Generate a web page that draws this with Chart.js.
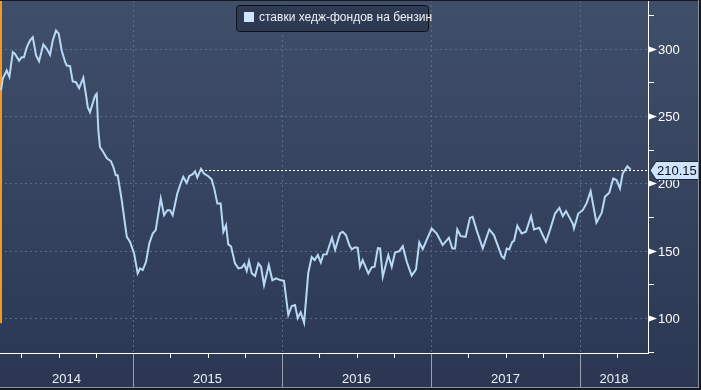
<!DOCTYPE html>
<html><head><meta charset="utf-8">
<script src="https://cdn.jsdelivr.net/npm/chart.js@4/dist/chart.umd.min.js"></script>
<style>
html,body{margin:0;padding:0;background:#2c3a55;overflow:hidden}
#wrap{position:relative;width:701px;height:390px}
canvas{display:block}
</style></head>
<body><div id="wrap"><canvas id="c" width="701" height="390"></canvas></div>
<script>
// ---- data (decimal years, weekly readings) ----
const dates = [
2014.114,2014.125,2014.152,2014.170,2014.193,2014.208,2014.235,2014.253,2014.268,2014.287,
2014.309,2014.327,2014.349,2014.369,2014.398,2014.421,2014.443,2014.461,2014.483,2014.501,
2014.521,2014.544,2014.555,2014.577,2014.595,2014.617,2014.638,2014.666,2014.685,2014.696,
2014.711,2014.745,2014.756,2014.767,2014.778,2014.800,2014.823,2014.852,2014.868,2014.884,
2014.897,2014.924,2014.958,2014.980,2015.007,2015.031,2015.047,2015.065,2015.087,2015.109,
2015.132,2015.152,2015.186,2015.208,2015.230,2015.248,2015.266,2015.297,2015.320,2015.337,
2015.360,2015.378,2015.401,2015.416,2015.431,2015.456,2015.476,2015.505,2015.528,2015.545,
2015.566,2015.588,2015.606,2015.624,2015.639,2015.658,2015.684,2015.707,2015.729,2015.747,
2015.763,2015.778,2015.797,2015.819,2015.841,2015.859,2015.879,2015.911,2015.935,2015.960,
2015.987,2016.013,2016.042,2016.065,2016.087,2016.105,2016.125,2016.148,2016.176,2016.199,
2016.219,2016.240,2016.260,2016.277,2016.299,2016.335,2016.356,2016.389,2016.407,2016.429,
2016.452,2016.468,2016.490,2016.508,2016.523,2016.541,2016.579,2016.602,2016.621,2016.643,
2016.658,2016.676,2016.713,2016.736,2016.758,2016.787,2016.810,2016.837,2016.870,2016.899,
2016.921,2016.944,2017.004,2017.038,2017.078,2017.120,2017.143,2017.161,2017.176,2017.199,
2017.232,2017.261,2017.279,2017.306,2017.347,2017.391,2017.422,2017.474,2017.490,2017.508,
2017.525,2017.545,2017.557,2017.579,2017.608,2017.637,2017.671,2017.691,2017.726,2017.771,
2017.798,2017.832,2017.861,2017.884,2017.906,2017.951,2017.959,2017.988,2018.018,2018.045,
2018.071,2018.110,2018.145,2018.167,2018.196,2018.223,2018.246,2018.268,2018.286,2018.317,
2018.340
];
const values = [
268.9,277.5,283.7,279.0,297.3,296.0,291.0,293.6,293.6,301.0,
306.0,308.4,294.8,290.6,303.0,299.8,295.3,306.0,313.3,311.0,
298.5,290.0,287.4,287.0,275.6,275.0,270.6,278.3,265.0,256.5,
252.8,265.0,266.4,239.0,226.9,223.2,218.7,216.3,212.0,205.9,
205.9,187.4,160.2,156.5,147.9,133.1,136.8,135.6,141.7,155.3,
162.7,165.2,188.7,176.3,180.0,180.0,176.3,192.4,200.0,204.7,
200.2,205.4,206.7,208.9,204.2,210.6,207.2,205.2,202.7,196.0,
184.9,184.9,164.0,168.9,154.6,153.0,140.5,136.8,137.3,140.0,
135.0,142.2,133.1,131.1,140.5,138.0,124.4,139.3,128.0,129.4,
128.1,127.6,102.2,108.9,109.6,99.8,104.2,96.5,133.6,145.2,
143.0,146.7,141.2,147.2,147.3,159.5,150.6,162.7,164.0,161.5,
154.0,150.9,152.5,152.0,138.0,143.0,133.0,137.6,138.0,151.8,
151.6,130.6,146.7,138.0,148.6,149.6,153.3,141.7,131.4,136.1,
156.1,151.1,166.4,162.7,154.1,159.5,151.6,151.6,165.7,160.7,
160.2,174.3,175.1,165.2,151.6,165.7,161.5,145.9,144.2,151.6,
150.9,156.5,157.3,168.4,162.7,164.0,175.6,165.7,166.9,156.5,
165.2,177.5,181.7,175.6,179.3,170.1,166.4,177.5,180.0,185.4,
194.0,170.8,178.0,189.9,193.0,203.5,202.2,196.1,207.2,212.5,
210.15
];
const seriesLabel = 'ставки хедж-фондов на бензин';
const yMajorTicks = [100,150,200,250,300];
const yMinorTicks = [75,125,175,225,275,325];
const yearStarts = [2014,2015,2016,2017,2018];
const yearLabels = ['2014','2015','2016','2017','2018'];
const xMin = 2014.107, xMax = 2018.456;
const yMin = 74, yMax = 336;

const FONT = '"Liberation Sans", Arial, sans-serif';

const deco = {
  id: 'deco',
  beforeDraw(chart) {
    const {ctx, chartArea: a, scales: {x, y}} = chart;
    const W = chart.width, H = chart.height;
    ctx.save();
    const g = ctx.createLinearGradient(0, 0, 0, H);
    g.addColorStop(0, '#3f4e69');
    g.addColorStop(0.45, '#36445f');
    g.addColorStop(1, '#2b3752');
    ctx.fillStyle = g;
    ctx.fillRect(0, 0, W, H);
    // grid
    ctx.strokeStyle = '#536f8a';
    ctx.lineWidth = 1;
    ctx.setLineDash([2, 3]);
    yMajorTicks.forEach(v => {
      const py = Math.round(y.getPixelForValue(v)) + 0.5;
      ctx.beginPath(); ctx.moveTo(a.left, py); ctx.lineTo(a.right, py); ctx.stroke();
    });
    yearStarts.forEach(t => {
      if (t <= xMin || t >= xMax) return;
      const px = Math.round(x.getPixelForValue(t)) + 0.5;
      ctx.beginPath(); ctx.moveTo(px, a.top); ctx.lineTo(px, a.bottom); ctx.stroke();
    });
    ctx.setLineDash([]);
    // orange left marker
    ctx.strokeStyle = '#f39a1e';
    ctx.lineWidth = 2;
    ctx.beginPath(); ctx.moveTo(a.left + 1, a.top); ctx.lineTo(a.left + 1, y.getPixelForValue(96)); ctx.stroke();
    ctx.restore();
  },
  afterDatasetsDraw(chart) {
    const {ctx, chartArea: a, scales: {x, y}} = chart;
    const W = chart.width, H = chart.height;
    ctx.save();
    // last value dotted line
    const n = values.length, last = values[n - 1];
    let i = n - 2;
    while (i >= 0 && values[i] >= last) i--;
    while (i >= 0 && values[i] < last) i--;
    const startX = i >= 0 ? x.getPixelForValue(dates[i]) : a.left;
    const ly = Math.round(y.getPixelForValue(last)) + 0.5;
    ctx.strokeStyle = '#ffffff';
    ctx.lineWidth = 1;
    ctx.setLineDash([2, 2]);
    ctx.beginPath(); ctx.moveTo(startX, ly); ctx.lineTo(a.right, ly); ctx.stroke();
    ctx.setLineDash([]);

    // axes
    ctx.strokeStyle = '#ffffff';
    ctx.lineWidth = 1;
    ctx.beginPath();
    ctx.moveTo(a.left, a.bottom + 0.5); ctx.lineTo(a.right + 1, a.bottom + 0.5);
    ctx.moveTo(a.right + 0.5, a.top); ctx.lineTo(a.right + 0.5, a.bottom + 1);
    ctx.stroke();

    // bottom quarter ticks
    ctx.beginPath();
    yearStarts.forEach(yr => {
      [0.25, 0.5, 0.75].forEach(q => {
        const t = yr + q;
        if (t <= xMin || t >= xMax) return;
        const px = Math.round(x.getPixelForValue(t)) + 0.5;
        ctx.moveTo(px, a.bottom); ctx.lineTo(px, a.bottom + 5);
      });
    });
    ctx.stroke();
    // year separators
    ctx.strokeStyle = '#9aa2ae';
    ctx.beginPath();
    yearStarts.forEach(t => {
      if (t <= xMin || t >= xMax) return;
      const px = Math.round(x.getPixelForValue(t)) + 0.5;
      ctx.moveTo(px, a.bottom + 1); ctx.lineTo(px, H - 3);
    });
    ctx.stroke();
    // year labels
    ctx.fillStyle = '#eef2f7';
    ctx.font = '13px ' + FONT;
    ctx.textAlign = 'center';
    ctx.textBaseline = 'middle';
    yearStarts.forEach((t, k) => {
      const s = Math.max(t, xMin), e = Math.min(t + 1, xMax);
      const cx = (x.getPixelForValue(s) + x.getPixelForValue(e)) / 2;
      ctx.fillText(yearLabels[k], cx, a.bottom + 26);
    });

    // right minor ticks
    ctx.strokeStyle = '#ffffff';
    ctx.beginPath();
    yMinorTicks.forEach(v => {
      if (v < yMin || v > yMax) return;
      const py = Math.round(y.getPixelForValue(v)) + 0.5;
      ctx.moveTo(a.right, py); ctx.lineTo(a.right + 6, py);
    });
    ctx.stroke();
    // major tick markers + labels
    ctx.fillStyle = '#ffffff';
    ctx.textAlign = 'left';
    yMajorTicks.forEach(v => {
      const py = Math.round(y.getPixelForValue(v)) + 0.5;
      ctx.beginPath();
      ctx.moveTo(a.right + 1, py - 3);
      ctx.lineTo(a.right + 9, py);
      ctx.lineTo(a.right + 1, py + 3);
      ctx.closePath();
      ctx.fill();
      ctx.fillText(String(v), a.right + 10, py + 1);
    });

    // last value tag
    const tx = a.right + 2;
    ctx.beginPath();
    ctx.moveTo(tx, ly);
    ctx.lineTo(tx + 6, ly - 9);
    ctx.lineTo(W - 2, ly - 9);
    ctx.lineTo(W - 2, ly + 9);
    ctx.lineTo(tx + 6, ly + 9);
    ctx.closePath();
    ctx.fillStyle = '#cde4fb';
    ctx.fill();
    ctx.strokeStyle = '#1c2638';
    ctx.stroke();
    ctx.fillStyle = '#0a0f18';
    ctx.font = '13px ' + FONT;
    ctx.fillText(last.toFixed(2), tx + 7, ly + 1);

    // legend
    const lx = 236.5, lyy = 5.5, lw = 192, lh = 26, r = 3;
    ctx.beginPath();
    ctx.moveTo(lx + r, lyy);
    ctx.lineTo(lx + lw - r, lyy); ctx.quadraticCurveTo(lx + lw, lyy, lx + lw, lyy + r);
    ctx.lineTo(lx + lw, lyy + lh - r); ctx.quadraticCurveTo(lx + lw, lyy + lh, lx + lw - r, lyy + lh);
    ctx.lineTo(lx + r, lyy + lh); ctx.quadraticCurveTo(lx, lyy + lh, lx, lyy + lh - r);
    ctx.lineTo(lx, lyy + r); ctx.quadraticCurveTo(lx, lyy, lx + r, lyy);
    ctx.closePath();
    ctx.fillStyle = '#2e3a52';
    ctx.fill();
    ctx.strokeStyle = '#0e1118';
    ctx.lineWidth = 1;
    ctx.stroke();
    ctx.fillStyle = '#cfe5ff';
    ctx.fillRect(244, 12, 10, 10);
    ctx.fillStyle = '#eef2f7';
    ctx.font = '12px ' + FONT;
    ctx.textBaseline = 'middle';
    ctx.fillText(seriesLabel, 259, 18);

    // frame
    ctx.fillStyle = '#15181e';
    ctx.fillRect(0, 0, W, 1);
    ctx.fillRect(0, H - 2, W, 2);
    ctx.fillRect(W - 2, 0, 2, H);
    ctx.fillStyle = '#8a9099';
    ctx.fillRect(0, H - 3, W - 2, 1);
    ctx.fillRect(W - 3, 0, 1, H - 2);
    ctx.restore();
  }
};

new Chart(document.getElementById('c'), {
  type: 'line',
  data: {
    datasets: [{
      label: seriesLabel,
      data: dates.map((t, k) => ({x: t, y: values[k]})),
      borderColor: '#b8d8f6',
      borderWidth: 2,
      pointRadius: 0,
      tension: 0,
      fill: false
    }]
  },
  options: {
    responsive: false,
    animation: false,
    layout: {padding: {left: 0, top: 0, right: 53, bottom: 37}},
    scales: {
      x: {type: 'linear', min: xMin, max: xMax, display: false},
      y: {type: 'linear', min: yMin, max: yMax, display: false}
    },
    plugins: {legend: {display: false}, tooltip: {enabled: false}}
  },
  plugins: [deco]
});
</script>
</body></html>
